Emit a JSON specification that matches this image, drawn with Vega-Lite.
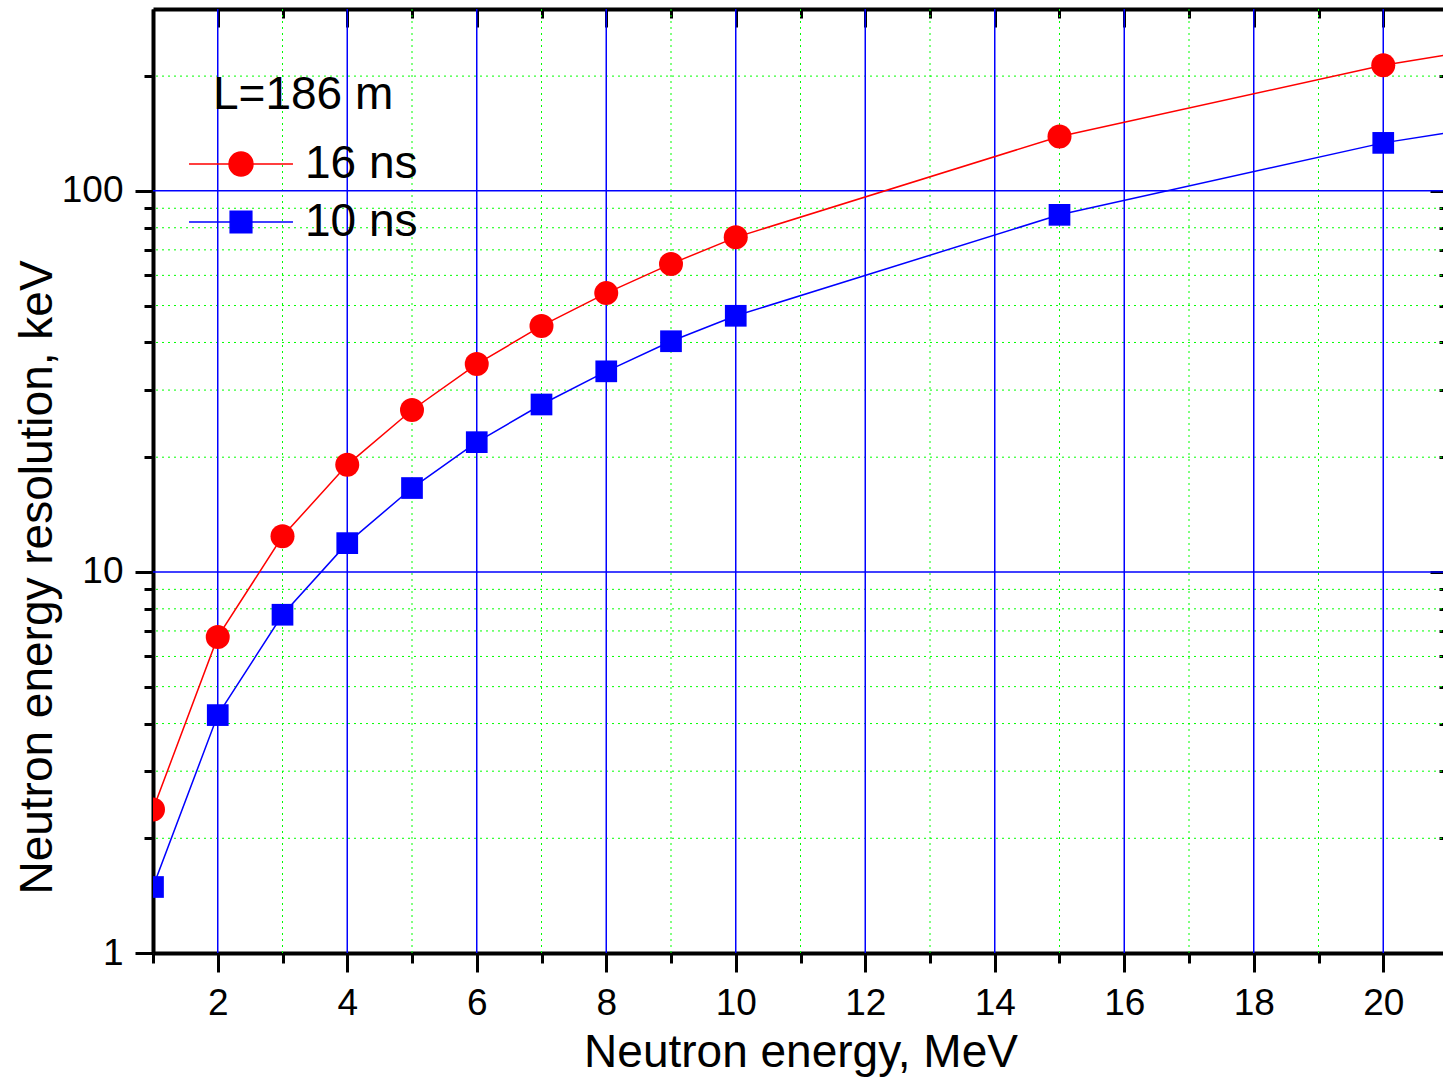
{
  "$schema": "https://vega.github.io/schema/vega-lite/v6.json",
  "width": 1295,
  "height": 944,
  "autosize": {"type": "none"},
  "padding": {"left": 153, "top": 9, "right": 0, "bottom": 125},
  "config": {
    "font": "Liberation Sans",
    "view": {"stroke": null},
    "axis": {
      "grid": false,
      "zindex": 1,
      "domainColor": "black",
      "domainWidth": 4,
      "tickColor": "black",
      "tickWidth": 3,
      "labelFont": "Liberation Sans",
      "labelFontSize": 37,
      "labelColor": "black",
      "titleFont": "Liberation Sans",
      "titleFontSize": 46,
      "titleFontWeight": "normal",
      "titleColor": "black"
    },
    "legend": {
      "titleLimit": 1000,
      "labelLimit": 1000
    }
  },
  "datasets": {
    "res": [
      {"energy": 1, "value": 2.38, "series": "16 ns"},
      {"energy": 2, "value": 6.75, "series": "16 ns"},
      {"energy": 3, "value": 12.4, "series": "16 ns"},
      {"energy": 4, "value": 19.1, "series": "16 ns"},
      {"energy": 5, "value": 26.6, "series": "16 ns"},
      {"energy": 6, "value": 35.1, "series": "16 ns"},
      {"energy": 7, "value": 44.2, "series": "16 ns"},
      {"energy": 8, "value": 53.9, "series": "16 ns"},
      {"energy": 9, "value": 64.3, "series": "16 ns"},
      {"energy": 10, "value": 75.5, "series": "16 ns"},
      {"energy": 15, "value": 138.9, "series": "16 ns"},
      {"energy": 20, "value": 213.5, "series": "16 ns"},
      {"energy": 21, "value": 227.5, "series": "16 ns"},
      {"energy": 1, "value": 1.49, "series": "10 ns"},
      {"energy": 2, "value": 4.21, "series": "10 ns"},
      {"energy": 3, "value": 7.72, "series": "10 ns"},
      {"energy": 4, "value": 11.9, "series": "10 ns"},
      {"energy": 5, "value": 16.6, "series": "10 ns"},
      {"energy": 6, "value": 21.9, "series": "10 ns"},
      {"energy": 7, "value": 27.5, "series": "10 ns"},
      {"energy": 8, "value": 33.6, "series": "10 ns"},
      {"energy": 9, "value": 40.3, "series": "10 ns"},
      {"energy": 10, "value": 47.0, "series": "10 ns"},
      {"energy": 15, "value": 86.5, "series": "10 ns"},
      {"energy": 20, "value": 133.6, "series": "10 ns"},
      {"energy": 21, "value": 142, "series": "10 ns"}
    ],
    "xminor": [{"v": 3}, {"v": 5}, {"v": 7}, {"v": 9}, {"v": 11}, {"v": 13}, {"v": 15}, {"v": 17}, {"v": 19}],
    "xmajor": [{"v": 2}, {"v": 4}, {"v": 6}, {"v": 8}, {"v": 10}, {"v": 12}, {"v": 14}, {"v": 16}, {"v": 18}, {"v": 20}],
    "yminor": [{"v": 2}, {"v": 3}, {"v": 4}, {"v": 5}, {"v": 6}, {"v": 7}, {"v": 8}, {"v": 9}, {"v": 20}, {"v": 30}, {"v": 40}, {"v": 50}, {"v": 60}, {"v": 70}, {"v": 80}, {"v": 90}, {"v": 200}],
    "ymajor": [{"v": 10}, {"v": 100}]
  },
  "resolve": {"axis": {"x": "independent", "y": "independent"}},
  "layer": [
    {
      "data": {"name": "xminor"},
      "mark": {"type": "rule", "color": "#00ff00", "strokeWidth": 1, "strokeDash": [2, 4]},
      "encoding": {
        "x": {
          "field": "v", "type": "quantitative",
          "scale": {"domain": [1, 21], "nice": false, "zero": false},
          "axis": {"orient": "top", "values": [1, 3, 5, 7, 9, 11, 13, 15, 17, 19, 21], "tickSize": -9, "labels": false, "domain": false, "title": null}
        }
      }
    },
    {
      "data": {"name": "yminor"},
      "mark": {"type": "rule", "color": "#00ff00", "strokeWidth": 1, "strokeDash": [2, 4]},
      "encoding": {
        "y": {
          "field": "v", "type": "quantitative",
          "scale": {"type": "log", "domain": [1, 300], "nice": false},
          "axis": {"orient": "right", "values": [2, 3, 4, 5, 6, 7, 8, 9, 20, 30, 40, 50, 60, 70, 80, 90, 200], "tickSize": -9, "labels": false, "domain": false, "title": null}
        }
      }
    },
    {
      "data": {"name": "xmajor"},
      "mark": {"type": "rule", "color": "#0000ff", "strokeWidth": 1.5},
      "encoding": {
        "x": {
          "field": "v", "type": "quantitative",
          "scale": {"domain": [1, 21], "nice": false, "zero": false},
          "axis": {"orient": "top", "values": [2, 4, 6, 8, 10, 12, 14, 16, 18, 20], "tickSize": -18, "labels": false, "domain": true, "title": null}
        }
      }
    },
    {
      "data": {"name": "ymajor"},
      "mark": {"type": "rule", "color": "#0000ff", "strokeWidth": 1.5},
      "encoding": {
        "y": {
          "field": "v", "type": "quantitative",
          "scale": {"type": "log", "domain": [1, 300], "nice": false},
          "axis": {"orient": "right", "values": [10, 100], "tickSize": -18, "labels": false, "domain": true, "title": null}
        }
      }
    },
    {
      "data": {"name": "res"},
      "mark": {"type": "line", "strokeWidth": 1.5, "clip": true},
      "encoding": {
        "x": {
          "field": "energy", "type": "quantitative",
          "scale": {"domain": [1, 21], "nice": false, "zero": false},
          "axis": {"orient": "bottom", "values": [2, 4, 6, 8, 10, 12, 14, 16, 18, 20], "tickSize": 19, "labelPadding": 13, "title": "Neutron energy, MeV", "titlePadding": 9, "domain": true}
        },
        "y": {
          "field": "value", "type": "quantitative",
          "scale": {"type": "log", "domain": [1, 300], "nice": false},
          "axis": {"orient": "left", "values": [1, 10, 100], "tickSize": 18, "labelPadding": 12, "title": "Neutron energy resolution, keV", "titlePadding": 0, "titleY": 568, "domain": true}
        },
        "color": {
          "field": "series", "type": "nominal",
          "scale": {"domain": ["16 ns", "10 ns"], "range": ["#ff0000", "#0000ff"]},
          "legend": {
            "orient": "none",
            "legendX": 36,
            "legendY": 64,
            "padding": 0,
            "title": "L=186 m",
            "titleFont": "Liberation Sans",
            "titleFontSize": 46,
            "titleFontWeight": "normal",
            "titleColor": "black",
            "titlePadding": 21,
            "titleLimit": 1000,
            "labelFont": "Liberation Sans",
            "labelFontSize": 46,
            "labelColor": "black",
            "labelOffset": 40,
            "labelLimit": 1000,
            "symbolSize": 2116,
            "symbolOffset": 28,
            "symbolStrokeWidth": 1.5,
            "rowPadding": 11,
            "encode": {
              "title": {"update": {"dx": {"value": 24}}},
              "symbols": {
                "update": {
                  "shape": {"signal": "datum.value === '16 ns' ? 'M-2.26,0H2.26M0.52,0A0.52,0.52,0,1,1,-0.52,0A0.52,0.52,0,1,1,0.52,0Z' : 'M-2.26,0H2.26M-0.47,-0.47H0.47V0.47H-0.47Z'"},
                  "fill": {"signal": "datum.value === '16 ns' ? '#ff0000' : '#0000ff'"},
                  "stroke": {"signal": "datum.value === '16 ns' ? '#ff0000' : '#0000ff'"},
                  "strokeWidth": {"value": 1.5},
                  "size": {"value": 2116},
                  "opacity": {"value": 1}
                }
              }
            }
          }
        }
      }
    },
    {
      "data": {"name": "res"},
      "transform": [{"filter": "datum.energy <= 20 && datum.series === '16 ns'"}],
      "mark": {"type": "point", "shape": "circle", "size": 576, "filled": true, "opacity": 1, "clip": true},
      "encoding": {
        "x": {
          "field": "energy", "type": "quantitative",
          "scale": {"domain": [1, 21], "nice": false, "zero": false},
          "axis": {"orient": "bottom", "values": [1, 3, 5, 7, 9, 11, 13, 15, 17, 19, 21], "tickSize": 10, "labels": false, "domain": false, "title": null}
        },
        "y": {
          "field": "value", "type": "quantitative",
          "scale": {"type": "log", "domain": [1, 300], "nice": false},
          "axis": {"orient": "left", "values": [2, 3, 4, 5, 6, 7, 8, 9, 20, 30, 40, 50, 60, 70, 80, 90, 200], "tickSize": 9, "labels": false, "domain": false, "title": null}
        },
        "color": {
          "field": "series", "type": "nominal",
          "scale": {"domain": ["16 ns", "10 ns"], "range": ["#ff0000", "#0000ff"]}
        }
      }
    },
    {
      "data": {"name": "res"},
      "transform": [{"filter": "datum.energy <= 20 && datum.series === '10 ns'"}],
      "mark": {"type": "point", "shape": "square", "size": 471, "filled": true, "opacity": 1, "clip": true},
      "encoding": {
        "x": {
          "field": "energy", "type": "quantitative",
          "scale": {"domain": [1, 21], "nice": false, "zero": false},
          "axis": null
        },
        "y": {
          "field": "value", "type": "quantitative",
          "scale": {"type": "log", "domain": [1, 300], "nice": false},
          "axis": null
        },
        "color": {
          "field": "series", "type": "nominal",
          "scale": {"domain": ["16 ns", "10 ns"], "range": ["#ff0000", "#0000ff"]}
        }
      }
    }
  ]
}
